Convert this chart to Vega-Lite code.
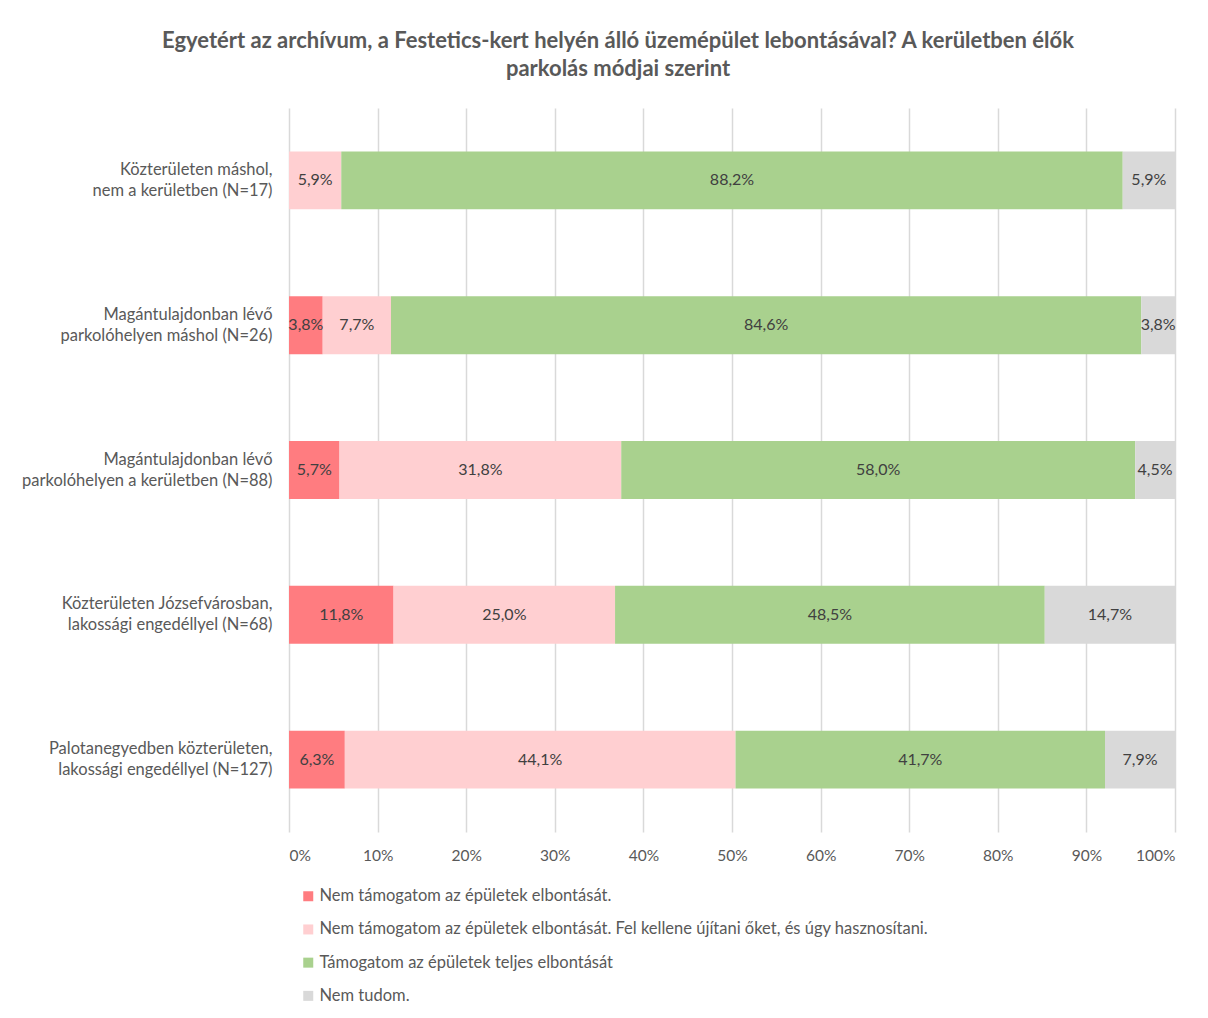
{
  "$schema": "https://vega.github.io/schema/vega-lite/v6.json",
  "autosize": "none",
  "width": 886,
  "height": 724,
  "padding": {"left": 289, "top": 108, "right": 33, "bottom": 186},
  "background": "white",
  "config": {
    "locale": {"number": {"decimal": ",", "thousands": " ", "grouping": [3], "currency": ["", ""]}},
    "font": "Lato",
    "view": {"stroke": null}
  },
  "title": {
    "text": ["Egyetért az archívum,  a Festetics-kert helyén álló üzemépület lebontásával? A kerületben élők", "parkolás módjai  szerint"],
    "anchor": "middle",
    "frame": "group",
    "dx": -114,
    "offset": 27,
    "fontSize": 22,
    "fontWeight": "bold",
    "color": "#595959",
    "lineHeight": 28,
    "font": "Lato"
  },
  "data": {
    "values": [
      {"row": "Közterületen máshol,|nem a kerületben  (N=17)", "cat": "Nem támogatom az épületek elbontását. Fel kellene újítani őket, és úgy hasznosítani.", "o": 2, "v": 0.059},
      {"row": "Közterületen máshol,|nem a kerületben  (N=17)", "cat": "Támogatom az épületek teljes elbontását", "o": 3, "v": 0.882},
      {"row": "Közterületen máshol,|nem a kerületben  (N=17)", "cat": "Nem tudom.", "o": 4, "v": 0.059},
      {"row": "Magántulajdonban lévő|parkolóhelyen máshol (N=26)", "cat": "Nem támogatom az épületek elbontását.", "o": 1, "v": 0.038},
      {"row": "Magántulajdonban lévő|parkolóhelyen máshol (N=26)", "cat": "Nem támogatom az épületek elbontását. Fel kellene újítani őket, és úgy hasznosítani.", "o": 2, "v": 0.077},
      {"row": "Magántulajdonban lévő|parkolóhelyen máshol (N=26)", "cat": "Támogatom az épületek teljes elbontását", "o": 3, "v": 0.846},
      {"row": "Magántulajdonban lévő|parkolóhelyen máshol (N=26)", "cat": "Nem tudom.", "o": 4, "v": 0.038},
      {"row": "Magántulajdonban lévő|parkolóhelyen a kerületben (N=88)", "cat": "Nem támogatom az épületek elbontását.", "o": 1, "v": 0.057},
      {"row": "Magántulajdonban lévő|parkolóhelyen a kerületben (N=88)", "cat": "Nem támogatom az épületek elbontását. Fel kellene újítani őket, és úgy hasznosítani.", "o": 2, "v": 0.318},
      {"row": "Magántulajdonban lévő|parkolóhelyen a kerületben (N=88)", "cat": "Támogatom az épületek teljes elbontását", "o": 3, "v": 0.580},
      {"row": "Magántulajdonban lévő|parkolóhelyen a kerületben (N=88)", "cat": "Nem tudom.", "o": 4, "v": 0.045},
      {"row": "Közterületen Józsefvárosban,|lakossági engedéllyel (N=68)", "cat": "Nem támogatom az épületek elbontását.", "o": 1, "v": 0.118},
      {"row": "Közterületen Józsefvárosban,|lakossági engedéllyel (N=68)", "cat": "Nem támogatom az épületek elbontását. Fel kellene újítani őket, és úgy hasznosítani.", "o": 2, "v": 0.250},
      {"row": "Közterületen Józsefvárosban,|lakossági engedéllyel (N=68)", "cat": "Támogatom az épületek teljes elbontását", "o": 3, "v": 0.485},
      {"row": "Közterületen Józsefvárosban,|lakossági engedéllyel (N=68)", "cat": "Nem tudom.", "o": 4, "v": 0.147},
      {"row": "Palotanegyedben közterületen,|lakossági engedéllyel (N=127)", "cat": "Nem támogatom az épületek elbontását.", "o": 1, "v": 0.063},
      {"row": "Palotanegyedben közterületen,|lakossági engedéllyel (N=127)", "cat": "Nem támogatom az épületek elbontását. Fel kellene újítani őket, és úgy hasznosítani.", "o": 2, "v": 0.441},
      {"row": "Palotanegyedben közterületen,|lakossági engedéllyel (N=127)", "cat": "Támogatom az épületek teljes elbontását", "o": 3, "v": 0.417},
      {"row": "Palotanegyedben közterületen,|lakossági engedéllyel (N=127)", "cat": "Nem tudom.", "o": 4, "v": 0.079}
    ]
  },
  "encoding": {
    "y": {
      "field": "row",
      "type": "nominal",
      "sort": null,
      "title": null,
      "scale": {"paddingInner": 0.6, "paddingOuter": 0.3},
      "axis": {
        "domain": false,
        "ticks": false,
        "grid": false,
        "labelExpr": "split(datum.label, '|')",
        "labelFontSize": 16.5,
        "labelLineHeight": 21,
        "labelColor": "#595959",
        "labelPadding": 17,
        "labelOffset": -10.5,
        "labelLimit": 400,
        "labelFont": "Lato"
      }
    }
  },
  "layer": [
    {
      "mark": {"type": "bar"},
      "encoding": {
        "x": {
          "field": "v",
          "type": "quantitative",
          "stack": "normalize",
          "title": null,
          "scale": {"domain": [0, 1], "nice": false},
          "axis": {
            "values": [0, 0.1, 0.2, 0.3, 0.4, 0.5, 0.6, 0.7, 0.8, 0.9, 1],
            "format": ".0%",
            "domain": false,
            "ticks": false,
            "grid": true,
            "gridColor": "#D9D9D9",
            "gridWidth": 1.5,
            "labelFontSize": 15.5,
            "labelColor": "#595959",
            "labelPadding": 16,
            "labelFont": "Lato"
          }
        },
        "color": {
          "field": "cat",
          "type": "nominal",
          "scale": {
            "domain": ["Nem támogatom az épületek elbontását.", "Nem támogatom az épületek elbontását. Fel kellene újítani őket, és úgy hasznosítani.", "Támogatom az épületek teljes elbontását", "Nem tudom."],
            "range": ["#FF7C80", "#FFCFD1", "#A9D18E", "#D9D9D9"]
          },
          "legend": {
            "title": null,
            "orient": "none",
            "legendX": 11,
            "legendY": 780,
            "direction": "vertical",
            "symbolType": "square",
            "symbolSize": 100,
            "symbolStrokeWidth": 0,
            "labelFontSize": 16.5,
            "labelColor": "#595959",
            "labelFont": "Lato",
            "labelOffset": 3,
            "labelLimit": 1000,
            "rowPadding": 16.2,
            "padding": 0
          }
        },
        "order": {"field": "o", "type": "quantitative"}
      }
    },
    {
      "mark": {"type": "text", "fontSize": 16, "color": "#404040", "font": "Lato"},
      "encoding": {
        "x": {"field": "v", "type": "quantitative", "stack": "normalize", "bandPosition": 0.5},
        "detail": {"field": "cat", "type": "nominal"},
        "order": {"field": "o", "type": "quantitative"},
        "text": {"field": "v", "type": "quantitative", "format": ".1%"}
      }
    }
  ]
}
